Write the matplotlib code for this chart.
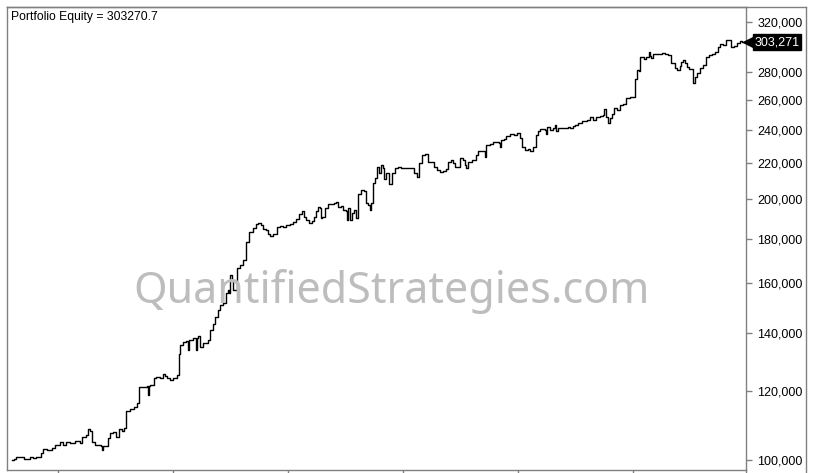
import matplotlib
matplotlib.use("Agg")
import matplotlib.pyplot as plt
from matplotlib.ticker import FixedLocator, FuncFormatter, NullLocator
from matplotlib.lines import Line2D

START_YEAR = 2016.6

# years since start of the backtest
years = [
    0.000, 0.017, 0.035, 0.104, 0.157, 0.183, 0.209, 0.252, 0.270, 0.304,
    0.348, 0.374, 0.417, 0.443, 0.470, 0.504, 0.548, 0.591, 0.609, 0.643,
    0.661, 0.678, 0.696, 0.722, 0.774, 0.783, 0.791, 0.835, 0.852, 0.878,
    0.904, 0.930, 0.957, 0.974, 0.991, 1.026, 1.061, 1.087, 1.104, 1.174,
    1.183, 1.191, 1.200, 1.235, 1.252, 1.287, 1.313, 1.330, 1.348, 1.374,
    1.400, 1.435, 1.452, 1.461, 1.487, 1.513, 1.530, 1.539, 1.574, 1.600,
    1.609, 1.617, 1.635, 1.661, 1.704, 1.722, 1.748, 1.765, 1.791, 1.809,
    1.835, 1.861, 1.878, 1.887, 1.896, 1.913, 1.922, 1.957, 1.983, 2.009,
    2.035, 2.061, 2.096, 2.122, 2.139, 2.165, 2.183, 2.209, 2.226, 2.243,
    2.270, 2.304, 2.330, 2.357, 2.383, 2.417, 2.443, 2.470, 2.496, 2.522,
    2.539, 2.557, 2.583, 2.609, 2.626, 2.643, 2.661, 2.678, 2.687, 2.696,
    2.722, 2.748, 2.800, 2.817, 2.835, 2.861, 2.878, 2.904, 2.913, 2.922,
    2.939, 2.957, 2.974, 2.991, 3.009, 3.035, 3.061, 3.078, 3.096, 3.113,
    3.122, 3.139, 3.157, 3.174, 3.191, 3.209, 3.226, 3.235, 3.252, 3.278,
    3.304, 3.330, 3.357, 3.383, 3.496, 3.522, 3.539, 3.565, 3.591, 3.617,
    3.670, 3.696, 3.722, 3.748, 3.774, 3.791, 3.817, 3.835, 3.852, 3.896,
    3.922, 3.939, 3.948, 3.965, 4.000, 4.035, 4.052, 4.104, 4.113, 4.122,
    4.157, 4.183, 4.235, 4.243, 4.252, 4.278, 4.296, 4.330, 4.365, 4.391,
    4.417, 4.435, 4.461, 4.487, 4.504, 4.530, 4.557, 4.574, 4.591, 4.635,
    4.643, 4.652, 4.678, 4.704, 4.722, 4.730, 4.748, 4.835, 4.852, 4.878,
    4.896, 4.922, 4.957, 5.000, 5.026, 5.052, 5.078, 5.113, 5.139, 5.148,
    5.165, 5.183, 5.200, 5.217, 5.235, 5.261, 5.287, 5.313, 5.339, 5.374,
    5.400, 5.417, 5.435, 5.452, 5.461, 5.496, 5.513, 5.539, 5.548, 5.557,
    5.574, 5.652, 5.678, 5.704, 5.730, 5.765, 5.783, 5.809, 5.817, 5.835,
    5.852, 5.870, 5.887, 5.922, 5.939, 5.957, 5.983, 6.009, 6.035, 6.061,
    6.087, 6.113, 6.139, 6.157, 6.183, 6.209, 6.252, 6.278, 6.304, 6.330,
    6.348, 6.374,
]

# portfolio equity in thousands of dollars
equity_k = [
    100.0, 100.3, 100.9, 100.3, 100.8, 100.5, 100.9, 101.8, 102.9, 102.7,
    103.2, 104.1, 105.0, 104.1, 105.0, 104.7, 105.2, 104.6, 106.2, 106.9,
    108.5, 108.0, 105.0, 104.1, 103.8, 102.7, 103.8, 105.9, 107.5, 107.8,
    106.2, 108.5, 108.0, 108.8, 114.0, 114.4, 115.0, 116.4, 121.5, 121.8,
    118.8, 121.8, 122.0, 124.2, 124.7, 124.2, 125.6, 125.1, 124.2, 123.7,
    124.2, 125.3, 132.7, 135.7, 136.7, 137.2, 133.9, 137.5, 138.1, 133.9,
    138.1, 139.0, 135.1, 136.3, 137.5, 141.2, 143.7, 146.3, 148.9, 150.9,
    151.8, 155.7, 157.1, 155.7, 163.5, 161.2, 157.1, 166.4, 167.9, 170.1,
    178.6, 183.4, 185.1, 187.3, 187.9, 186.7, 184.6, 184.0, 182.4, 181.5,
    182.4, 185.6, 186.3, 185.6, 186.7, 187.3, 188.3, 189.6, 192.3, 193.5,
    190.6, 189.3, 187.9, 188.6, 190.6, 193.5, 195.9, 195.1, 190.0, 190.6,
    195.1, 197.3, 198.0, 198.6, 195.9, 196.3, 194.2, 193.5, 189.3, 195.1,
    189.3, 192.8, 194.5, 190.0, 202.7, 204.8, 204.4, 197.7, 196.8, 194.2,
    197.7, 208.5, 211.3, 217.9, 214.1, 218.9, 216.9, 210.9, 214.1, 208.0,
    214.1, 216.9, 217.9, 216.9, 214.5, 212.2, 219.9, 224.8, 225.2, 220.5,
    217.9, 216.0, 214.7, 215.4, 216.4, 220.8, 221.8, 219.9, 217.9, 223.2,
    221.8, 218.9, 216.9, 220.8, 221.8, 224.8, 227.3, 227.3, 223.8, 230.8,
    231.3, 232.9, 231.8, 229.4, 233.9, 234.3, 236.4, 237.7, 237.0, 238.5,
    235.0, 229.4, 227.8, 228.2, 227.0, 229.4, 237.0, 239.8, 240.7, 240.2,
    237.7, 241.9, 240.2, 241.3, 243.4, 239.8, 241.3, 241.9, 241.3, 242.8,
    243.4, 244.5, 246.2, 246.6, 248.4, 246.6, 248.4, 249.3, 250.0, 253.8,
    248.8, 244.9, 247.7, 250.6, 254.4, 253.3, 256.7, 257.4, 261.3, 262.4,
    262.0, 274.8, 281.7, 281.2, 291.3, 289.8, 291.8, 295.7, 292.3, 290.6,
    293.8, 294.4, 293.8, 293.1, 286.7, 283.0, 281.7, 284.6, 287.9, 289.1,
    286.7, 283.7, 282.2, 271.9, 276.7, 279.3, 283.0, 285.2, 291.8, 293.1,
    293.8, 295.7, 299.7, 301.8, 301.0, 305.0, 299.1, 300.2, 302.3, 304.4,
    303.6, 303.2707,
]

final_equity = 303270.7
y_ticks = [100000, 120000, 140000, 160000, 180000, 200000, 220000, 240000,
           260000, 280000, 320000]
x_ticks = [2017, 2018, 2019, 2020, 2021, 2022]

t = [START_YEAR + y for y in years]
equity = [v * 1000 for v in equity_k]

plt.rcParams['font.family'] = ['Liberation Sans', 'DejaVu Sans']

fig = plt.figure(figsize=(8.17, 4.73), dpi=100)
W, H = 817, 473
ax = fig.add_axes([7 / W, 3 / H, 739 / W, 463 / H])

ax.step(t, equity, where='post', color='black', lw=1.0, zorder=3)

ax.set_yscale('log')
ax.set_ylim(97400, 333000)
ax.set_xlim(START_YEAR - 0.0435, START_YEAR + 6.383)

ax.yaxis.tick_right()
ax.yaxis.set_major_locator(FixedLocator(y_ticks))
ax.yaxis.set_minor_locator(NullLocator())
ax.yaxis.set_major_formatter(FuncFormatter(lambda v, p: f"{v:,.0f}"))
ax.xaxis.set_major_locator(FixedLocator(x_ticks))
ax.xaxis.set_minor_locator(NullLocator())
ax.set_xticklabels([])
ax.tick_params(axis='y', which='both', direction='out', length=4, width=1,
               color='#808080', labelsize=9, labelcolor='black', pad=4)
ax.tick_params(axis='x', direction='out', length=3, width=1, color='#808080')

for side in ['left', 'right', 'top', 'bottom']:
    ax.spines[side].set_color('#808080')
    ax.spines[side].set_linewidth(1)

# outer frame around the price axis
fig.add_artist(Line2D([7 / W, 806 / W], [1 - 7 / H, 1 - 7 / H],
                      transform=fig.transFigure, color='#808080', lw=1))
fig.add_artist(Line2D([806 / W, 806 / W], [0, 1 - 7 / H],
                      transform=fig.transFigure, color='#808080', lw=1))
fig.add_artist(Line2D([746 / W, 746 / W], [0, 3 / H],
                      transform=fig.transFigure, color='#808080', lw=1))

ax.text(0.0055, 0.972, f"Portfolio Equity = {final_equity}", transform=ax.transAxes,
        fontsize=8.7, va='baseline', ha='left', color='black')

# last value marker on the price axis
ax.plot([1.003], [final_equity], marker='<', markersize=7, color='black',
        transform=ax.get_yaxis_transform(), clip_on=False, zorder=10)
ax.text(1.0115, final_equity, f"{round(final_equity):,}", transform=ax.get_yaxis_transform(),
        fontsize=9, color='white', va='center', ha='left', clip_on=False, zorder=11,
        bbox=dict(boxstyle='square,pad=0.15', fc='black', ec='black'))

fig.text(392 / W, 1 - 303 / H, "QuantifiedStrategies.com", fontsize=31,
         family='Noto Sans', color='#bdbdbd', ha='center', va='baseline', zorder=0)

fig.savefig('out.png', dpi=100)
